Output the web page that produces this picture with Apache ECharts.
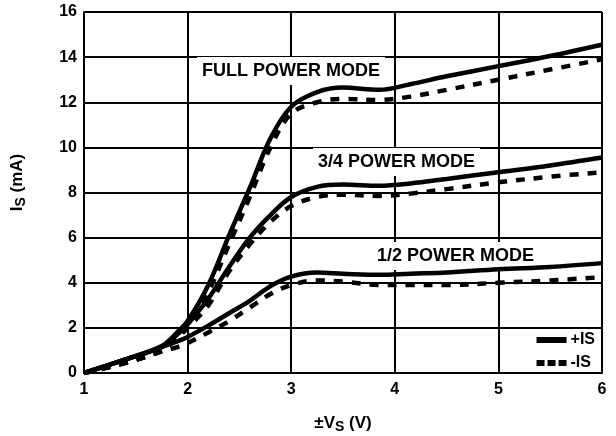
<!DOCTYPE html>
<html><head><meta charset="utf-8">
<script src="https://cdn.jsdelivr.net/npm/echarts@6/dist/echarts.min.js"></script>
<style>html,body{margin:0;padding:0;background:#fff}#c{width:616px;height:436px}</style>
</head><body><div id="c"></div>
<script>
const xs        = [1, 1.4, 1.75, 1.9, 2, 2.2, 2.4, 2.6, 2.8, 3, 3.25, 3.5, 3.85, 4.15, 4.5, 5, 5.5, 6];
const fullPlus  = [0, 0.6, 1.2, 1.8, 2.3, 3.9, 6.1, 8.2, 10.4, 11.8, 12.45, 12.65, 12.55, 12.8, 13.15, 13.6, 14.05, 14.55];
const fullMinus = [0, 0.45, 1.0, 1.6, 2.1, 3.6, 5.7, 7.8, 10.0, 11.5, 12.0, 12.15, 12.1, 12.25, 12.55, 13.0, 13.45, 13.9];
const tqPlus    = [0, 0.6, 1.15, 1.7, 2.15, 3.3, 4.7, 6.0, 7.0, 7.8, 8.25, 8.35, 8.3, 8.4, 8.6, 8.9, 9.2, 9.55];
const tqMinus   = [0, 0.45, 1.0, 1.55, 2.0, 3.0, 4.5, 5.7, 6.7, 7.4, 7.8, 7.9, 7.85, 7.95, 8.15, 8.45, 8.7, 8.9];
const halfPlus  = [0, 0.6, 1.15, 1.4, 1.6, 2.1, 2.65, 3.2, 3.85, 4.27, 4.45, 4.4, 4.35, 4.4, 4.45, 4.6, 4.7, 4.87];
const halfMinus = [0, 0.45, 0.95, 1.15, 1.33, 1.8, 2.3, 2.9, 3.5, 3.9, 4.1, 4.05, 3.9, 3.9, 3.9, 4.0, 4.1, 4.25];
const legendNames = ['+IS', '-IS'];
const modeLabels = ['FULL POWER MODE', '3/4 POWER MODE', '1/2 POWER MODE'];

const font = 'Liberation Sans, Arial, sans-serif';
function pts(ys){ return xs.map((x,i)=>[x, ys[i]]); }
function ser(name, ys, dashed){
  return {
    type:'line', name, data: pts(ys), smooth: 0.35, symbol:'none', silent:true, z:3,
    lineStyle:{color:'#000', width:4.5, type: dashed ? [9,9] : 'solid'},
    itemStyle:{color:'#000'}
  };
}
const nameRich = {
  a:{fontFamily:font, fontWeight:'bold', fontSize:17, color:'#000'},
  b:{fontFamily:font, fontWeight:'bold', fontSize:14, color:'#000', padding:[7,0,0,0]}
};
const chart = echarts.init(document.getElementById('c'));
chart.setOption({
  animation:false,
  grid:{left:84, right:14, top:12, bottom:63, outerBoundsMode:'none', containLabel:false},
  xAxis:{type:'value', min:1, max:6, interval:1,
    axisLine:{show:true, onZero:false, lineStyle:{color:'#000', width:2}},
    axisTick:{show:false},
    splitLine:{show:true, lineStyle:{color:'#000', width:2}},
    axisLabel:{color:'#000', fontFamily:font, fontWeight:'bold', fontSize:16, margin:9},
    name:'{a|±V}{b|S}{a| (V)}', nameLocation:'middle', nameGap:40,
    nameTextStyle:{rich:nameRich}
  },
  yAxis:{type:'value', min:0, max:16, interval:2,
    axisLine:{show:true, lineStyle:{color:'#000', width:2}},
    axisTick:{show:false},
    splitLine:{show:true, lineStyle:{color:'#000', width:2}},
    axisLabel:{color:'#000', fontFamily:font, fontWeight:'bold', fontSize:16, margin:7},
    name:'{a|I}{b|S}{a| (mA)}', nameLocation:'middle', nameGap:56,
    nameTextStyle:{rich:nameRich, padding:[0,0,0,20]}
  },
  legend:{
    data:[
      {name:legendNames[0], icon:'rect'},
      {name:legendNames[1], icon:'path://M0,0h8v6h-8zM11,0h8v6h-8zM22,0h8v6h-8z'}
    ],
    orient:'vertical', right:21, top:331, itemGap:5, padding:0,
    itemWidth:30, itemHeight:6, symbolKeepAspect:false,
    itemStyle:{color:'#000', borderWidth:0},
    lineStyle:{width:0},
    textStyle:{fontFamily:font, fontWeight:'bold', fontSize:16, lineHeight:18, color:'#000', padding:[0,0,0,-1]}},
  graphic:[
    {type:'text', z:1, left:197, top:57, style:{text:modeLabels[0], font:'bold 18px '+font, fill:'#000', backgroundColor:'#fff', padding:[5,5,5,5]}},
    {type:'text', z:1, left:313, top:148, style:{text:modeLabels[1], font:'bold 18px '+font, fill:'#000', backgroundColor:'#fff', padding:[5,5,5,5]}},
    {type:'text', z:1, left:372, top:242, style:{text:modeLabels[2], font:'bold 18px '+font, fill:'#000', backgroundColor:'#fff', padding:[5,5,5,5]}}
  ],
  series:[
    ser(legendNames[0], fullPlus, false),
    ser(legendNames[1], fullMinus, true),
    ser(legendNames[0], tqPlus, false),
    ser(legendNames[1], tqMinus, true),
    ser(legendNames[0], halfPlus, false),
    ser(legendNames[1], halfMinus, true)
  ]
});
</script></body></html>
